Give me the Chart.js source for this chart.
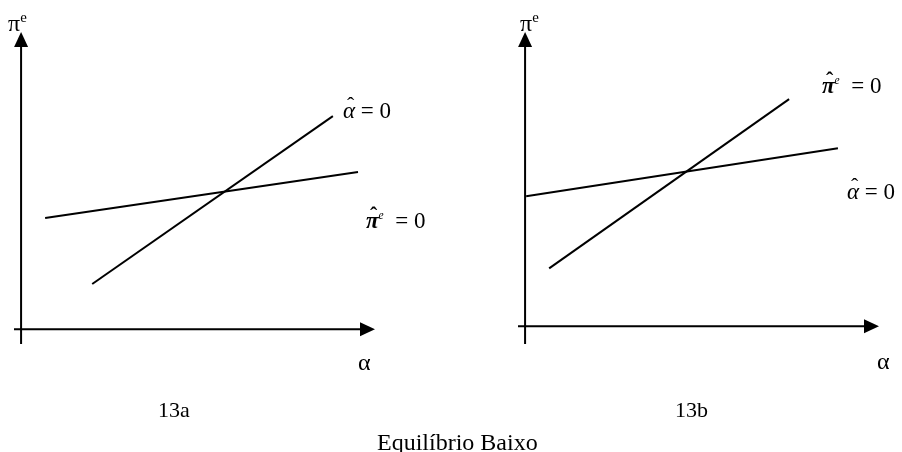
<!DOCTYPE html>
<html>
<head>
<meta charset="utf-8">
<script src="https://cdn.jsdelivr.net/npm/chart.js@4.4.1/dist/chart.umd.min.js"></script>
<style>
  html, body { margin: 0; padding: 0; background: #fff; }
  #wrap { position: relative; width: 902px; height: 452px; overflow: hidden;
          font-family: 'Liberation Serif', 'Times New Roman', serif; color: #000; }
  canvas { position: absolute; top: 0; }
  #c13a { left: 0; }
  #c13b { left: 451px; }
  .t { position: absolute; white-space: nowrap; line-height: 1; }
  .hat { position: relative; font-style: italic; }
  .hat::before { content: '\02C6'; position: absolute; left: 4px; top: -3px; font-style: normal; font-size: 0.95em; }
  .pi { font-weight: bold; }
  .sup { font-size: 0.5em; vertical-align: 0.8em; font-style: italic; }
  .supe { font-size: 0.62em; vertical-align: 0.6em; }
</style>
</head>
<body>
<div id="wrap">
  <canvas id="c13a" width="451" height="452"></canvas>
  <canvas id="c13b" width="451" height="452"></canvas>

  <!-- 13a -->
  <div class="t" style="left:8px; top:10px; font-size:24px;">π<span class="supe">e</span></div>
  <div class="t" style="left:358px; top:350px; font-size:24px;">α</div>
  <div class="t" style="left:343px; top:99px; font-size:23px;"><span class="hat">α</span> = 0</div>
  <div class="t" style="left:366px; top:209px; font-size:23px;"><span class="hat pi">π</span><span class="sup">e</span>&nbsp;&nbsp;= 0</div>
  <div class="t" style="left:158px; top:399px; font-size:22px;">13a</div>

  <!-- 13b -->
  <div class="t" style="left:520px; top:10px; font-size:24px;">π<span class="supe">e</span></div>
  <div class="t" style="left:877px; top:349px; font-size:24px;">α</div>
  <div class="t" style="left:822px; top:74px; font-size:23px;"><span class="hat pi">π</span><span class="sup">e</span>&nbsp;&nbsp;= 0</div>
  <div class="t" style="left:847px; top:180px; font-size:23px;"><span class="hat">α</span> = 0</div>
  <div class="t" style="left:675px; top:399px; font-size:22px;">13b</div>

  <div class="t" style="left:377px; top:430px; font-size:24px;">Equilíbrio Baixo</div>
</div>

<script>
// 13a: alpha-hat = 0 (steep) and pi-hat^e = 0 (flat)
const aAlphaX = [20.1, 88.1];
const aAlphaY = [15.2, 71.7];
const aPiX = [6.8, 95.2];
const aPiY = [37.4, 52.9];

// 13b: pi-hat^e = 0 (steep) and alpha-hat = 0 (flat)
const bPiX = [6.8, 74.6];
const bPiY = [19.7, 77.2];
const bAlphaX = [0.3, 88.4];
const bAlphaY = [44.2, 60.5];

// axis ranges (axes cross at 0, arrow tips at max)
const xRange = [-2, 100];
const yRangeA = [-5, 100];
const yRangeB = [-6, 100];

const toPts = (xs, ys) => xs.map((x, i) => ({ x: x, y: ys[i] }));

const arrowAxes = {
    id: 'arrowAxes',
    beforeDatasetsDraw(chart) {
        const { ctx, scales: { x, y } } = chart;
        const x0 = x.getPixelForValue(0);
        const y0 = y.getPixelForValue(0);
        const xL = x.getPixelForValue(x.min);
        const xR = x.getPixelForValue(x.max);
        const yB = y.getPixelForValue(y.min);
        const yT = y.getPixelForValue(y.max);
        const len = 15, half = 7;

        ctx.save();
        ctx.strokeStyle = '#000';
        ctx.fillStyle = '#000';
        ctx.lineWidth = 2;
        ctx.beginPath();
        ctx.moveTo(x0, yB);
        ctx.lineTo(x0, yT + len);
        ctx.moveTo(xL, y0);
        ctx.lineTo(xR - len, y0);
        ctx.stroke();

        ctx.beginPath();
        ctx.moveTo(x0, yT);
        ctx.lineTo(x0 - half, yT + len);
        ctx.lineTo(x0 + half, yT + len);
        ctx.closePath();
        ctx.fill();

        ctx.beginPath();
        ctx.moveTo(xR, y0);
        ctx.lineTo(xR - len, y0 - half);
        ctx.lineTo(xR - len, y0 + half);
        ctx.closePath();
        ctx.fill();
        ctx.restore();
    }
};

function makePanel(canvasId, lines, yRange, padding) {
    const ctx = document.getElementById(canvasId).getContext('2d');
    return new Chart(ctx, {
        type: 'scatter',
        data: {
            datasets: lines.map(l => ({
                label: l.label,
                data: toPts(l.xs, l.ys),
                showLine: true,
                borderColor: '#000',
                borderWidth: 2,
                pointRadius: 0,
                fill: false
            }))
        },
        options: {
            responsive: false,
            animation: false,
            layout: { padding: padding },
            plugins: { legend: { display: false }, tooltip: { enabled: false } },
            scales: {
                x: { type: 'linear', min: xRange[0], max: xRange[1], display: false },
                y: { type: 'linear', min: yRange[0], max: yRange[1], display: false }
            }
        },
        plugins: [arrowAxes]
    });
}

makePanel('c13a', [
    { label: 'α̂ = 0', xs: aAlphaX, ys: aAlphaY },
    { label: 'π̂e = 0', xs: aPiX, ys: aPiY }
], yRangeA, { left: 14, right: 76, top: 32, bottom: 108 });

makePanel('c13b', [
    { label: 'π̂e = 0', xs: bPiX, ys: bPiY },
    { label: 'α̂ = 0', xs: bAlphaX, ys: bAlphaY }
], yRangeB, { left: 67, right: 23, top: 32, bottom: 108 });
</script>
</body>
</html>
